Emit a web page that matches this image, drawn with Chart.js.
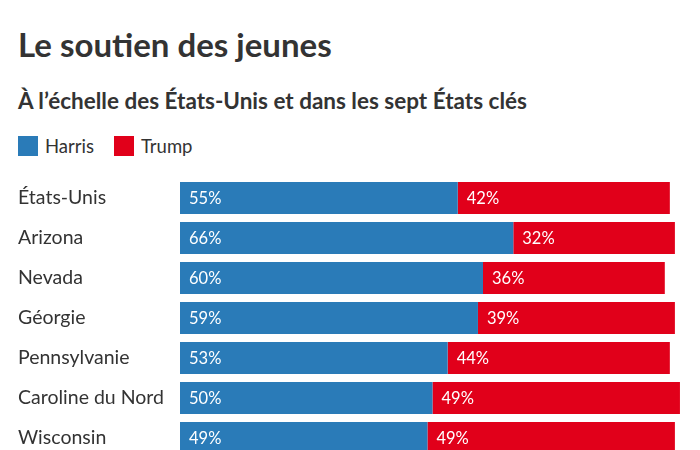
<!DOCTYPE html>
<html>
<head>
<meta charset="utf-8">
<script src="https://cdn.jsdelivr.net/npm/chart.js@4"></script>
<style>
  html, body { margin: 0; padding: 0; background: #fff; width: 700px; height: 450px; overflow: hidden; }
  body { position: relative; font-family: Lato, "Open Sans", sans-serif; color: #333; }
  h1 { position: absolute; left: 18px; top: 24px; margin: 0; font-size: 33px; font-weight: 700; line-height: 40px; color: #333; }
  h2 { position: absolute; left: 18px; top: 87px; margin: 0; font-size: 22.5px; font-weight: 700; line-height: 28px; color: #333; }
  .legende { position: absolute; left: 18px; top: 134px; font-size: 18.5px; line-height: 24px; display: flex; align-items: center; }
  .legende span.carre { display: inline-block; width: 20px; height: 20px; margin-right: 7px; }
  .legende span.nom { margin-right: 20px; }
  #graph { position: absolute; left: 0; top: 178px; }
</style>
</head>
<body>
<h1>Le soutien des jeunes</h1>
<h2>À l’échelle des États-Unis et dans les sept États clés</h2>
<div class="legende" id="legende"></div>
<canvas id="graph" width="700" height="282"></canvas>
<script>
// donnees
const etats = ['États-Unis', 'Arizona', 'Nevada', 'Géorgie', 'Pennsylvanie', 'Caroline du Nord', 'Wisconsin'];
const harris = [55, 66, 60, 59, 53, 50, 49];
const trump = [42, 32, 36, 39, 44, 49, 49];
const series = ['Harris', 'Trump'];
const couleurs = ['#2a7bb8', '#e1001a'];

// legende en html
const legende = document.getElementById('legende');
series.forEach((nom, i) => {
    legende.innerHTML += `<span class="carre" style="background:${couleurs[i]}"></span><span class="nom">${nom}</span>`;
});

// etiquettes des categories et des valeurs
const etiquettes = {
    id: 'etiquettes',
    afterDatasetsDraw(chart) {
        const ctx = chart.ctx;
        const yScale = chart.scales.y;
        ctx.save();
        ctx.textBaseline = 'middle';
        ctx.textAlign = 'left';
        ctx.font = '19.5px Lato, sans-serif';
        ctx.fillStyle = '#333';
        etats.forEach((e, i) => {
            ctx.fillText(e, 18, yScale.getPixelForValue(i));
        });
        ctx.font = '16.5px Lato, sans-serif';
        ctx.fillStyle = '#fff';
        chart.data.datasets.forEach((ds, d) => {
            chart.getDatasetMeta(d).data.forEach((bar, i) => {
                const debut = Math.min(bar.x, bar.base);
                ctx.fillText(ds.data[i] + '%', debut + 9, bar.y + 1);
            });
        });
        ctx.restore();
    }
};

const ctx = document.getElementById('graph').getContext('2d');
const myChart = new Chart(ctx, {
    type: 'bar',
    data: {
        labels: etats,
        datasets: [
            { label: series[0], data: harris, backgroundColor: couleurs[0] },
            { label: series[1], data: trump, backgroundColor: couleurs[1] }
        ]
    },
    options: {
        indexAxis: 'y',
        responsive: false,
        animation: false,
        barPercentage: 0.8,
        categoryPercentage: 1,
        layout: { padding: { left: 180, right: 15, top: 0, bottom: 2 } },
        scales: {
            x: { stacked: true, min: 0, max: 100, display: false },
            y: { stacked: true, display: false }
        },
        plugins: {
            legend: { display: false },
            tooltip: { enabled: false }
        }
    },
    plugins: [etiquettes]
});
</script>
</body>
</html>
